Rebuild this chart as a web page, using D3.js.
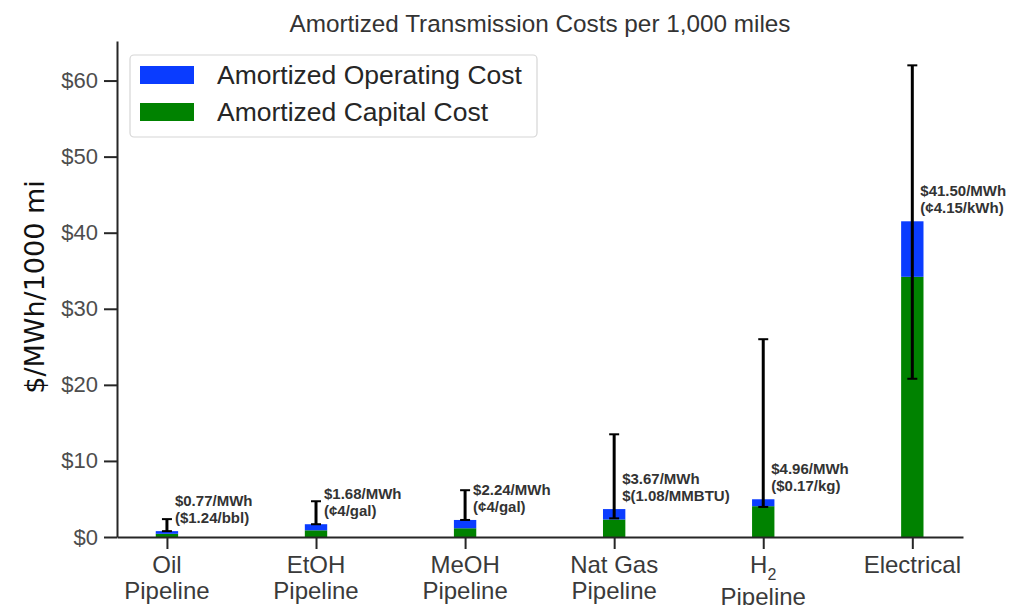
<!DOCTYPE html>
<html>
<head>
<meta charset="utf-8">
<script src="https://cdn.jsdelivr.net/npm/d3@7"></script>
<style>
  html, body { margin: 0; padding: 0; background: #fff; }
  svg { display: block; }
</style>
</head>
<body>
<svg id="chart" width="1015" height="605"></svg>
<script>
// Transport modes along the x axis ("_2" marks a subscript)
const categories = [
  ["Oil", "Pipeline"],
  ["EtOH", "Pipeline"],
  ["MeOH", "Pipeline"],
  ["Nat Gas", "Pipeline"],
  ["H_2", "Pipeline"],
  ["Electrical"]
];

// Amortized cost components, $/MWh per 1000 mi
const capitalCost   = [0.42, 0.88, 1.15, 2.30, 4.05, 34.20];
const operatingCost = [0.35, 0.80, 1.09, 1.37, 0.91, 7.30];

// Uncertainty range drawn as error bars
const errorLow  = [0.77, 1.68, 2.24, 2.45, 3.95, 20.8];
const errorHigh = [2.35, 4.70, 6.15, 13.5, 26.0, 62.0];

// Alternative unit shown under each total
const unitLabels = ["($1.24/bbl)", "(¢4/gal)", "(¢4/gal)", "$(1.08/MMBTU)", "($0.17/kg)", "(¢4.15/kWh)"];

const yTicks = [0, 10, 20, 30, 40, 50, 60];

const seriesNames = ["Amortized Operating Cost", "Amortized Capital Cost"];
const colors = { operating: "#0a3cff", capital: "#008200" };

const svg = d3.select("#chart");
const margin = { left: 117, right: 963, top: 41, bottom: 537 };

const x = d3.scaleLinear().domain([-0.335, 5.34]).range([margin.left, margin.right]);
const y = d3.scaleLinear().domain([0, 65.2]).range([margin.bottom, margin.top]);
const barW = x(0.15) - x(0);

const idx = d3.range(categories.length);
const totals = idx.map(i => capitalCost[i] + operatingCost[i]);

// Stacked bars: capital at the bottom, operating on top
svg.append("g").selectAll("rect.cap").data(idx).join("rect")
  .attr("x", i => x(i) - barW / 2)
  .attr("width", barW)
  .attr("y", i => y(capitalCost[i]))
  .attr("height", i => y(0) - y(capitalCost[i]))
  .attr("fill", colors.capital);

svg.append("g").selectAll("rect.op").data(idx).join("rect")
  .attr("x", i => x(i) - barW / 2)
  .attr("width", barW)
  .attr("y", i => y(totals[i]))
  .attr("height", i => y(capitalCost[i]) - y(totals[i]))
  .attr("fill", colors.operating);

// Error bars
const eg = svg.append("g").attr("stroke", "#000").attr("stroke-width", 3);
idx.forEach(i => {
  eg.append("line").attr("x1", x(i)).attr("x2", x(i)).attr("y1", y(errorLow[i])).attr("y2", y(errorHigh[i]));
  eg.append("line").attr("x1", x(i) - 5).attr("x2", x(i) + 5).attr("y1", y(errorLow[i])).attr("y2", y(errorLow[i])).attr("stroke-width", 2);
  eg.append("line").attr("x1", x(i) - 5).attr("x2", x(i) + 5).attr("y1", y(errorHigh[i])).attr("y2", y(errorHigh[i])).attr("stroke-width", 2);
});

// Value annotations
const lg = svg.append("g")
  .attr("font-family", "Liberation Sans, Arial, sans-serif")
  .attr("font-weight", "bold")
  .attr("font-size", 15)
  .attr("fill", "#333");
idx.forEach(i => {
  const base = y(totals[i]) - 8;
  lg.append("text").attr("x", x(i) + 8).attr("y", base - 17).text(`$${totals[i].toFixed(2)}/MWh`);
  lg.append("text").attr("x", x(i) + 8).attr("y", base).text(unitLabels[i]);
});

// Y axis
const yAxis = d3.axisLeft(y).tickValues(yTicks).tickFormat(d => "$" + d).tickSize(13).tickSizeOuter(0).tickPadding(6);
const gy = svg.append("g").attr("transform", `translate(${margin.left},0)`).call(yAxis);
gy.select(".domain").attr("stroke", "#262626").attr("stroke-width", 2);
gy.selectAll(".tick line").attr("stroke", "#262626").attr("stroke-width", 2);
gy.selectAll(".tick text")
  .attr("font-family", "Liberation Sans, Arial, sans-serif")
  .attr("font-size", 22).attr("fill", "#4d4d4d");

// X axis
const xAxis = d3.axisBottom(x).tickValues(idx).tickFormat("").tickSize(12).tickSizeOuter(0);
const gx = svg.append("g").attr("transform", `translate(0,${margin.bottom})`).call(xAxis);
gx.select(".domain").attr("stroke", "#262626").attr("stroke-width", 2);
gx.selectAll(".tick line").attr("stroke", "#262626").attr("stroke-width", 2);

const xl = svg.append("g")
  .attr("font-family", "Liberation Sans, Arial, sans-serif")
  .attr("font-size", 24).attr("fill", "#3a3a3a")
  .attr("text-anchor", "middle");
categories.forEach((lines, i) => {
  let yy = 573;
  lines.forEach((ln, k) => {
    const t = xl.append("text").attr("x", x(i)).attr("y", yy);
    if (ln.includes("_")) {
      const [main, sub] = ln.split("_");
      t.append("tspan").text(main);
      t.append("tspan").attr("font-size", 16).attr("dy", 7).text(sub);
      yy += 32;
    } else {
      t.text(ln);
      yy += 26;
    }
  });
});

// Title
svg.append("text")
  .attr("x", (margin.left + margin.right) / 2).attr("y", 32)
  .attr("text-anchor", "middle")
  .attr("font-family", "Liberation Sans, Arial, sans-serif")
  .attr("font-size", 24.3).attr("fill", "#333")
  .text("Amortized Transmission Costs per 1,000 miles");

// Y axis title
svg.append("text")
  .attr("transform", "translate(44,287) rotate(-90)")
  .attr("text-anchor", "middle")
  .attr("font-family", "DejaVu Sans, sans-serif")
  .attr("font-size", 27).attr("fill", "#111")
  .text("$/MWh/1000 mi");

// Legend
const leg = svg.append("g");
leg.append("rect").attr("x", 130).attr("y", 55).attr("width", 407).attr("height", 82)
  .attr("rx", 4).attr("fill", "#fff").attr("fill-opacity", 0.8)
  .attr("stroke", "#d6d6d6").attr("stroke-width", 1.2);
const legColors = [colors.operating, colors.capital];
seriesNames.forEach((name, k) => {
  const top = 66 + k * 37;
  leg.append("rect").attr("x", 140).attr("y", top).attr("width", 54).attr("height", 18).attr("fill", legColors[k]);
  leg.append("text").attr("x", 217).attr("y", top + 18)
    .attr("font-family", "Liberation Sans, Arial, sans-serif")
    .attr("font-size", 26.5).attr("fill", "#262626")
    .text(name);
});
</script>
</body>
</html>
